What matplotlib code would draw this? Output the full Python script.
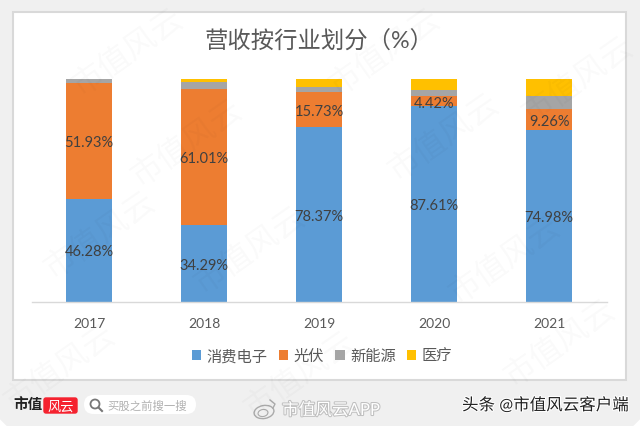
import matplotlib
matplotlib.use('Agg')
import matplotlib.pyplot as plt
import matplotlib.patheffects as pe
from matplotlib.patches import FancyBboxPatch, Rectangle, Circle, Ellipse
from matplotlib.lines import Line2D
import numpy as np

plt.rcParams['font.family'] = ['Lato', 'Noto Sans CJK SC', 'DejaVu Sans']

years = ['2017', '2018', '2019', '2020', '2021']
consumer = [46.28, 34.29, 78.37, 87.61, 74.98]
solar = [51.93, 61.01, 15.73, 4.42, 9.26]
new_energy = [2.2, 3.0, 1.9, 2.77, 5.3]
medical = [0.0, 1.7, 4.0, 5.2, 7.8]

series_names = ['消费电子', '光伏', '新能源', '医疗']
series_values = [consumer, solar, new_energy, medical]
series_colors = ['#5b9bd5', '#ed7d31', '#a5a5a5', '#ffc000']
labelled = ['消费电子', '光伏']

# centres of the faint watermark stamps, in image pixels
stamp_x = [128, 187, 385, 444, 578, 60, 300, 560, 505, 250, 100]
stamp_y = [52, 143, 52, 137, 80, 368, 375, 343, 260, 250, 235]

W, H = 640, 427
fig = plt.figure(figsize=(W / 100, H / 100), dpi=100, facecolor='white')

# background card and white panel
bg = fig.add_axes([0, 0, 1, 1], zorder=0)
bg.set_xlim(0, W)
bg.set_ylim(H, 0)
bg.axis('off')
bg.add_patch(FancyBboxPatch((10, 0), W - 20, H - 11, boxstyle='round,pad=0,rounding_size=10',
                            mutation_aspect=1, fc='#f0f0f0', ec='#f0f0f0', lw=20))
bg.add_patch(Rectangle((13, 13), 613, 368, fc='white', ec='#d9d9d9', lw=1.5))

# chart: 100% stacked, the labels keep the raw values
ax = fig.add_axes([31.5 / W, 1 - 302.5 / H, 575 / W, 223 / H], zorder=1)
ax.patch.set_alpha(0)
x = np.arange(len(years))
totals = np.sum(series_values, axis=0)
bottom = np.zeros(len(years))
for name, vals, color in zip(series_names, series_values, series_colors):
    share = np.array(vals) / totals * 100
    bars = ax.bar(x, share, 0.4, bottom=bottom, color=color, label=name)
    if name in labelled:
        ax.bar_label(bars, labels=['%.2f%%' % v for v in vals], label_type='center',
                     color='#404040', fontsize=10.5, padding=-1)
    bottom += share

ax.set_xlim(-0.5, 4.5)
ax.set_ylim(0, 100)
ax.set_xticks(x)
ax.set_xticklabels(years, color='#595959', fontsize=10)
ax.set_yticks([])
ax.tick_params(axis='x', length=0, pad=11)
for s in ['top', 'left', 'right']:
    ax.spines[s].set_visible(False)
ax.spines['bottom'].set_color('#d9d9d9')
ax.spines['bottom'].set_linewidth(1.0)

fig.legend(*ax.get_legend_handles_labels(), loc='center', bbox_to_anchor=(322 / W, 1 - 357 / H),
           ncol=4, frameon=False, fontsize=11, labelcolor='#595959', handlelength=0.6,
           handleheight=0.6, handletextpad=0.35, columnspacing=0.75, borderpad=0)

fig.text(319 / W, 1 - 41.5 / H, '营收按行业划分（%）', ha='center', va='center',
         fontsize=16.8, color='#595959')

# footer and watermarks on top
fg = fig.add_axes([0, 0, 1, 1], zorder=3)
fg.set_xlim(0, W)
fg.set_ylim(H, 0)
fg.axis('off')
fg.patch.set_alpha(0)

for sx, sy in zip(stamp_x, stamp_y):
    fg.text(sx, sy, '市值风云', fontsize=23, color='black', alpha=0.025, rotation=35,
            ha='center', va='center', rotation_mode='anchor')

fg.text(13, 405, '市值', fontsize=10.5, fontweight='bold', color='#222222', va='center')
fg.add_patch(FancyBboxPatch((44, 399), 33, 15, boxstyle='round,pad=0,rounding_size=2',
                            fc='#f5222f', ec='#f5222f', lw=1))
fg.text(60.5, 406, '风云', fontsize=9.5, color='white', ha='center', va='center')

fg.add_patch(FancyBboxPatch((84, 396), 112, 19, boxstyle='round,pad=0,rounding_size=9.5',
                            fc='white', ec='white', lw=0))
fg.add_patch(Circle((95, 405), 4.5, fc='none', ec='#777777', lw=1.3))
fg.add_line(Line2D([98.5, 102], [408.5, 412], color='#777777', lw=1.5))
fg.text(107, 406, '买股之前搜一搜', fontsize=8.2, color='#b0b0b0', va='center')

# weibo mark
fg.add_patch(Ellipse((264, 413), 20, 13, angle=-10, fc='#f0f0f0', ec='#aaaaaa', lw=1))
fg.add_patch(Ellipse((263, 414), 10, 7, angle=-10, fc='none', ec='#aaaaaa', lw=0.8))
fg.add_line(Line2D([270, 275, 273], [401, 405, 409], color='#aaaaaa', lw=1))

fg.text(282, 411, '市值风云APP', fontsize=12, color='white', va='center',
        path_effects=[pe.withStroke(linewidth=1.5, foreground='#c0c0c0')])
fg.text(462, 406, '头条 @市值风云客户端', fontsize=11.9, color='#222222', va='center',
        path_effects=[pe.withStroke(linewidth=1.5, foreground='white')])

fig.savefig('out.png', dpi=100)
